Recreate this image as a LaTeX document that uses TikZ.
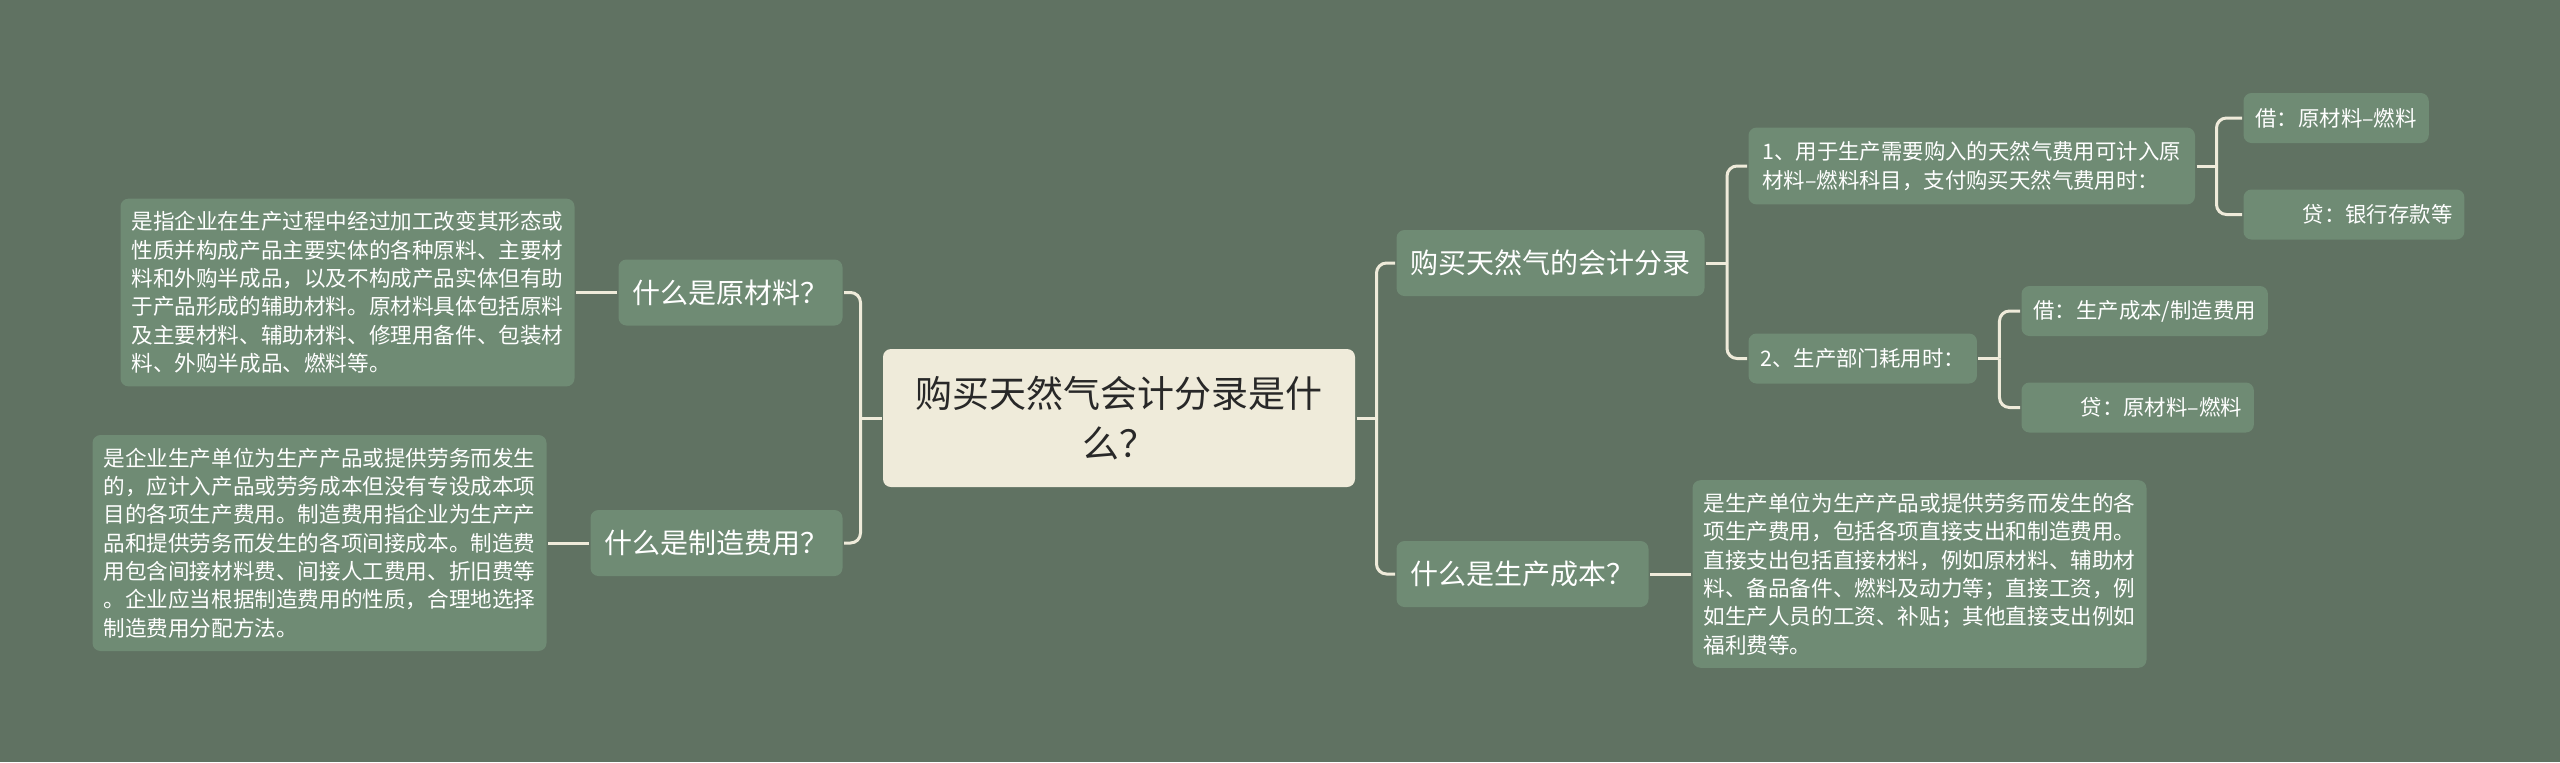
\documentclass[tikz,border=0pt]{standalone}
\usepackage{fontspec}
\newfontfamily\cjk{Noto Sans CJK SC}
\usetikzlibrary{positioning}
\definecolor{bg}{RGB}{96,114,98}
\definecolor{leaf}{RGB}{111,139,116}
\definecolor{cream}{RGB}{239,235,218}
\definecolor{ink}{RGB}{40,40,40}

\begin{document}
\begin{tikzpicture}[line width=1.5pt,node distance=20.5pt,
  box/.style={fill=leaf,rounded corners=4pt,text=white,inner ysep=0pt},
  topic/.style={box,font=\cjk\fontsize{14}{17}\selectfont,inner xsep=7pt,minimum height=33pt},
  sub/.style={box,font=\cjk\fontsize{10.7}{14.2}\selectfont,inner xsep=6pt,minimum height=25pt},
  note/.style={box,font=\cjk\fontsize{10.8}{14.15}\selectfont,inner xsep=5.5pt,inner ysep=6.5pt,align=left},
  link/.style={draw=cream,rounded corners=5pt}]
  \fill[bg] (0,0) rectangle (1280pt,-381pt);
  \node(a) at (559.5pt,-209pt) [fill=cream,rounded corners=4pt,text=ink,align=center,
    font=\cjk\fontsize{18.5}{25}\selectfont,minimum width=236pt,minimum height=69pt]
    {购买天然气会计分录是什\\么？};
  \node(b) at (365.25pt,-146.25pt) [topic]{什么是原材料？};
  \node(c) at (358.25pt,-271.5pt)  [topic]{什么是制造费用？};
  \node(d) at (775.25pt,-131.5pt)  [topic]{购买天然气的会计分录};
  \node(e) at (761.25pt,-287pt)    [topic]{什么是生产成本？};
  \node[left=of b](f)  [note]{是指企业在生产过程中经过加工改变其形态或\\性质并构成产品主要实体的各种原料、主要材\\料和外购半成品，以及不构成产品实体但有助\\于产品形成的辅助材料。原材料具体包括原料\\及主要材料、辅助材料、修理用备件、包装材\\料、外购半成品、燃料等。};
  \node[left=of c](g)  [note]{是企业生产单位为生产产品或提供劳务而发生\\的，应计入产品或劳务成本但没有专设成本项\\目的各项生产费用。制造费用指企业为生产产\\品和提供劳务而发生的各项间接成本。制造费\\用包含间接材料费、间接人工费用、折旧费等\\。企业应当根据制造费用的性质，合理地选择\\制造费用分配方法。};
  \node[right=of e](h) [note]{是生产单位为生产产品或提供劳务而发生的各\\项生产费用，包括各项直接支出和制造费用。\\直接支出包括直接材料，例如原材料、辅助材\\料、备品备件、燃料及动力等；直接工资，例\\如生产人员的工资、补贴；其他直接支出例如\\福利费等。};
  \node(i) at (873.5pt,-83pt)      [sub,anchor=west,align=left,inner xsep=7pt,inner ysep=7pt]{1、用于生产需要购入的天然气费用可计入原\\材料–燃料科目，支付购买天然气费用时：};
  \node(j) at (873.5pt,-179.25pt)  [sub,anchor=west]{2、生产部门耗用时：};
  \node(k) at (1121pt,-59pt)       [sub,anchor=west]{借：原材料–燃料};
  \node(l) at (1121pt,-107.25pt)   [sub,anchor=west]{\hspace{2.2em}贷：银行存款等};
  \node(m) at (1010pt,-155.5pt)    [sub,anchor=west]{借：生产成本/制造费用};
  \node(n) at (1010pt,-203.75pt)   [sub,anchor=west]{\hspace{2.2em}贷：原材料–燃料};
  \coordinate[left=10.5pt of a](ja);
  \coordinate[right=10pt of a](jb);
  \coordinate[right=10.5pt of d](jd);
  \coordinate[right=10pt of i](ji);
  \coordinate[right=10.5pt of j](jj);
  \draw[link] (a.west) -- (ja);
  \draw[link] (ja) |- (b.east);
  \draw[link] (ja) |- (c.east);
  \draw[link] (a.east) -- (jb);
  \draw[link] (jb) |- (d.west);
  \draw[link] (jb) |- (e.west);
  \draw[link] (d.east) -- (jd);
  \draw[link] (jd) |- (i.west);
  \draw[link] (jd) |- (j.west);
  \draw[link] (i.east) -- (ji);
  \draw[link] (ji) |- (k.west);
  \draw[link] (ji) |- (l.west);
  \draw[link] (j.east) -- (jj);
  \draw[link] (jj) |- (m.west);
  \draw[link] (jj) |- (n.west);
  \draw[link] (b.west) -- (f.east);
  \draw[link] (c.west) -- (g.east);
  \draw[link] (e.east) -- (h.west);
\end{tikzpicture}
\end{document}
